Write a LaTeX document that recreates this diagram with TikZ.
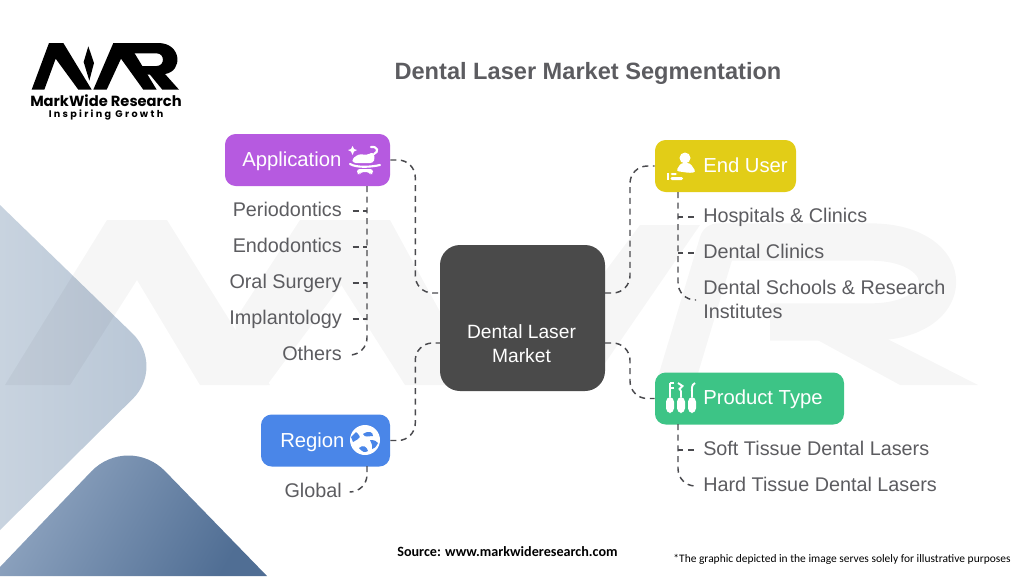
\documentclass[tikz,border=0pt]{standalone}
\usepackage{fontspec}
\setmainfont{Liberation Sans}
\newfontfamily\calibrifont{Carlito}
\newfontfamily\logofont{Poppins}
\newfontfamily\tagfont[LetterSpace=24]{Poppins}
\definecolor{inkgray}{HTML}{5C5C60}
\definecolor{linkgray}{HTML}{4A4A4E}
\definecolor{hubgray}{HTML}{4A4A4A}
\definecolor{apppurple}{HTML}{B65AE0}
\definecolor{useryellow}{HTML}{E2CD17}
\definecolor{typegreen}{HTML}{3DC486}
\definecolor{regionblue}{HTML}{4A86E8}
\tikzset{
  catbox/.style={rectangle,rounded corners=8pt,inner sep=0pt,minimum height=39pt},
  catlabel/.style={inner sep=0pt,text=white,text height=11pt,text depth=3pt,font=\fontsize{15.2}{18}\selectfont},
  item/.style={inner sep=0pt,text=inkgray,font=\fontsize{14.85}{18}\selectfont,align=left},
  oneline/.style={item,text height=11pt,text depth=3pt},
  conn/.style={draw=linkgray,line width=1.1pt,dash pattern=on 4.5pt off 3.5pt,rounded corners=13pt},
}
\begin{document}
\begin{tikzpicture}[x=0.75pt,y=-0.75pt]
  \useasboundingbox (0,0) rectangle (1024,576);
  % background
  \shade[left color={rgb,255:red,200;green,211;blue,223},right color={rgb,255:red,183;green,197;blue,213}]
    (0,205) [rounded corners=35pt] -- (166,366) [sharp corners] -- (0,530) -- cycle;
  \shade[left color={rgb,255:red,146;green,167;blue,194},right color={rgb,255:red,80;green,110;blue,148},shading angle=60]
    (0,576) -- (0,567) [rounded corners=40pt] -- (128,433) [sharp corners] -- (267,576) -- cycle;
  % watermark
  \begin{scope}[transparency group,opacity=0.035]
    \fill (5,385) -- (107,220) -- (167,220) -- (270,385) -- (200,385) -- (137,280) -- (70,385) -- cycle;
    \fill (235,320) -- (300,220) -- (390,220) -- (267,385) -- (240,385) -- cycle;
    \fill (300,220) -- (390,220) -- (480,385) -- (405,385) -- cycle;
    \fill (520,385) -- (640,225) -- (700,225) -- (590,385) -- cycle;
    \draw[line width=28pt,line join=round] (675,385) -- (718,242) -- (870,242) .. controls (960,242) and (960,322) .. (870,322) -- (770,322);
    \fill (790,325) -- (860,325) -- (978,385) -- (900,385) -- cycle;
  \end{scope}
  % logo
  \begin{scope}[shift={(25,38)},x=0.25pt,y=-0.25pt]
    \fill (20,155) -- (72,15) -- (115,15) -- (200,155) -- (160,155) -- (92,62) -- (58,155) -- cycle;
    \fill (190,25) -- (207,75) -- (193,128) -- (176,72) -- cycle;
    \fill (205,155) -- (265,15) -- (310,15) -- (395,155) -- (355,155) -- (288,62) -- (245,155) -- cycle;
    \fill (300,15) -- (400,15) .. controls (470,15) and (475,100) .. (420,108) -- (462,155) -- (412,155) -- (375,110) -- (340,110) -- (352,84) -- (395,84) .. controls (420,84) and (420,46) .. (395,46) -- (315,46) -- cycle;
  \end{scope}
  \node[inner sep=0pt,text height=8pt,text depth=0pt,font=\logofont\bfseries\fontsize{11}{12}\selectfont] (logoname) at (106,101) {MarkWide Research};
  \node[inner sep=0pt,text height=5pt,text depth=0.5pt,font=\tagfont\bfseries\fontsize{7.2}{8}\selectfont] (logotag) at (106,114.5) {Inspiring Growth};
  % title
  \node[inner sep=0pt,text=inkgray,text height=13pt,text depth=4pt,font=\bfseries\fontsize{17.7}{20}\selectfont] (title) at (588,73) {Dental Laser Market Segmentation};
  % hub
  \node[rectangle,rounded corners=15pt,fill=hubgray,minimum width=123.75pt,minimum height=109.5pt,inner sep=0pt] (hub) at (522.5,318) {};
  \node[inner sep=0pt,text=white,align=center,font=\fontsize{14.4}{18}\selectfont] (hublabel) at (521.5,344) {Dental Laser\\Market};
  \coordinate (hubnw) at (440,293);
  \coordinate (hubsw) at (440,343);
  \coordinate (hubne) at (605,293);
  \coordinate (hubse) at (605,343);
  % category boxes
  \node[catbox,fill=apppurple,minimum width=123.75pt] (appbox) at (307.5,160) {};
  \node[catbox,fill=useryellow,minimum width=105.75pt] (userbox) at (725.5,166) {};
  \node[catbox,fill=typegreen,minimum width=141.75pt] (typebox) at (749.5,398.5) {};
  \node[catbox,fill=regionblue,minimum width=96.75pt] (regionbox) at (325.5,440.5) {};
  \node[catlabel,anchor=west] (applabel) at (242,161) {Application};
  \node[catlabel,anchor=west] (userlabel) at (703,167) {End User};
  \node[catlabel,anchor=west] (typelabel) at (703,399) {Product Type};
  \node[catlabel,anchor=west] (regionlabel) at (280,442) {Region};
  % items
  \node[oneline,anchor=east] (periodontics) at (342,211) {Periodontics};
  \node[oneline,anchor=east] (endodontics) at (342,247) {Endodontics};
  \node[oneline,anchor=east] (oralsurgery) at (342,283) {Oral Surgery};
  \node[oneline,anchor=east] (implantology) at (342,319) {Implantology};
  \node[oneline,anchor=east] (others) at (342,355) {Others};
  \node[oneline,anchor=east] (global) at (342,492) {Global};
  \node[oneline,anchor=west] (hospitals) at (703,217) {Hospitals \& Clinics};
  \node[oneline,anchor=west] (clinics) at (703,253) {Dental Clinics};
  \node[item,anchor=west] (schools) at (703,299) {Dental Schools \& Research\\Institutes};
  \node[oneline,anchor=west] (softtissue) at (703,450) {Soft Tissue Dental Lasers};
  \node[oneline,anchor=west] (hardtissue) at (703,486) {Hard Tissue Dental Lasers};
  % connectors to hub
  \draw[conn] (appbox.east) -- ++(25,0) |- (hubnw);
  \draw[conn] (regionbox.east) -- ++(25,0) |- (hubsw);
  \draw[conn] (hubne) -- ++(25,0) |- (userbox.west);
  \draw[conn] (hubse) -- ++(25,0) |- (typebox.west);
  % connectors to items
  \coordinate (appspine) at (367,186);
  \coordinate (regionspine) at (367,466);
  \coordinate (userspine) at (678,192);
  \coordinate (typespine) at (678,424);
  \coordinate (schoolsend) at (696,300);
  \draw[conn] (appspine) |- ([xshift=8]others.east);
  \draw[conn] (regionspine) |- ([xshift=8]global.east);
  \draw[conn] (userspine) |- (schoolsend);
  \draw[conn] (typespine) |- ([xshift=-7]hardtissue.west);
  \foreach \nm in {periodontics,endodontics,oralsurgery,implantology}
    \draw[conn] ([xshift=8]\nm.east) -- (\nm.east -| appspine);
  \foreach \nm in {hospitals,clinics}
    \draw[conn] ([xshift=-7]\nm.west) -- (\nm.west -| userspine);
  \draw[conn] ([xshift=-7]softtissue.west) -- (softtissue.west -| typespine);
  % icons
  \begin{scope}[shift={(365,160)},white]
    \fill (-14,-11) -- (-12.5,-14) -- (-11,-11) -- (-8,-10) -- (-11,-8.5) -- (-12.5,-5) -- (-14,-8.5) -- (-17,-10) -- cycle;
    \fill[rounded corners=2pt] (-13,-1) -- (-6,-6) -- (2,-5) -- (8,-8) -- (10,-2) -- (8,3) -- (-2,3) -- (-12,3) -- cycle;
    \draw[line width=1.6pt,line cap=round] (6,-13) .. controls (13,-14) and (14,-8) .. (9,-6);
    \draw[line width=1.6pt,line cap=round] (-15,4) .. controls (-8,8) and (6,7) .. (15,5);
    \fill[rounded corners=2pt] (-8,9) -- (8,9) -- (8,14) -- (5,14) -- (4,12) -- (-4,12) -- (-5,14) -- (-8,14) -- cycle;
  \end{scope}
  \begin{scope}[shift={(680,165)},white]
    \fill (5,-7) circle (5.5);
    \fill[rounded corners=2pt] (-4,6) -- (1,-2) -- (10,-2) -- (16,7) -- (10,8) -- cycle;
    \fill (-13,8) rectangle (-11,15);
    \fill[rounded corners=1pt] (-9.5,8) -- (-3,8) -- (-3,10) -- (-9.5,10) -- cycle;
    \fill[rounded corners=1pt] (-9.5,12) -- (3,12) -- (3,15) -- (-9.5,15) -- cycle;
  \end{scope}
  \begin{scope}[shift={(681,398)},white]
    \foreach \px in {-11,0,11} {
      \fill[rounded corners=3.5pt] (\px-4,-1) rectangle (\px+4,15);
      \draw[line width=1.4pt] (\px,-1) -- (\px,-7);
    }
    \draw[line width=1.4pt] (-11,-15) -- (-11,-7) (-11,-15) -- (-7,-15) (-11,-10) -- (-7,-10);
    \draw[line width=1.4pt] (-3,-15) -- (1.5,-12) -- (-1.5,-9) -- (0,-7);
    \draw[line width=1.4pt] (14,-15) .. controls (10,-13) and (11,-9) .. (11,-4);
  \end{scope}
  \begin{scope}[shift={(365,440)}]
    \fill[white] (0,0) circle (15);
    \fill[regionblue] (-9,-8) .. controls (-4,-3) and (-3,-3) .. (-12,2) -- (-14,-3) -- cycle;
    \fill[regionblue] (-2,-6) .. controls (4,-10) and (8,-8) .. (8,-4) .. controls (3,-4) and (0,-2) .. (-2,-6) -- cycle;
    \fill[regionblue] (5,0) .. controls (9,0) and (12,1) .. (13,3) .. controls (11,7) and (9,9) .. (7,9) .. controls (8,5) and (6,3) .. (5,0) -- cycle;
    \fill[regionblue] (-6,8) .. controls (-2,4) and (2,7) .. (3,11) .. controls (0,13) and (-3,12) .. (-6,8) -- cycle;
  \end{scope}
  % footer
  \node[inner sep=0pt,font=\calibrifont\bfseries\fontsize{10.6}{12}\selectfont] (source) at (507.5,552) {Source: www.markwideresearch.com};
  \node[inner sep=0pt,font=\calibrifont\fontsize{8.6}{10}\selectfont] (disclaimer) at (842,559) {*The graphic depicted in the image serves solely for illustrative purposes};
\end{tikzpicture}
\end{document}
